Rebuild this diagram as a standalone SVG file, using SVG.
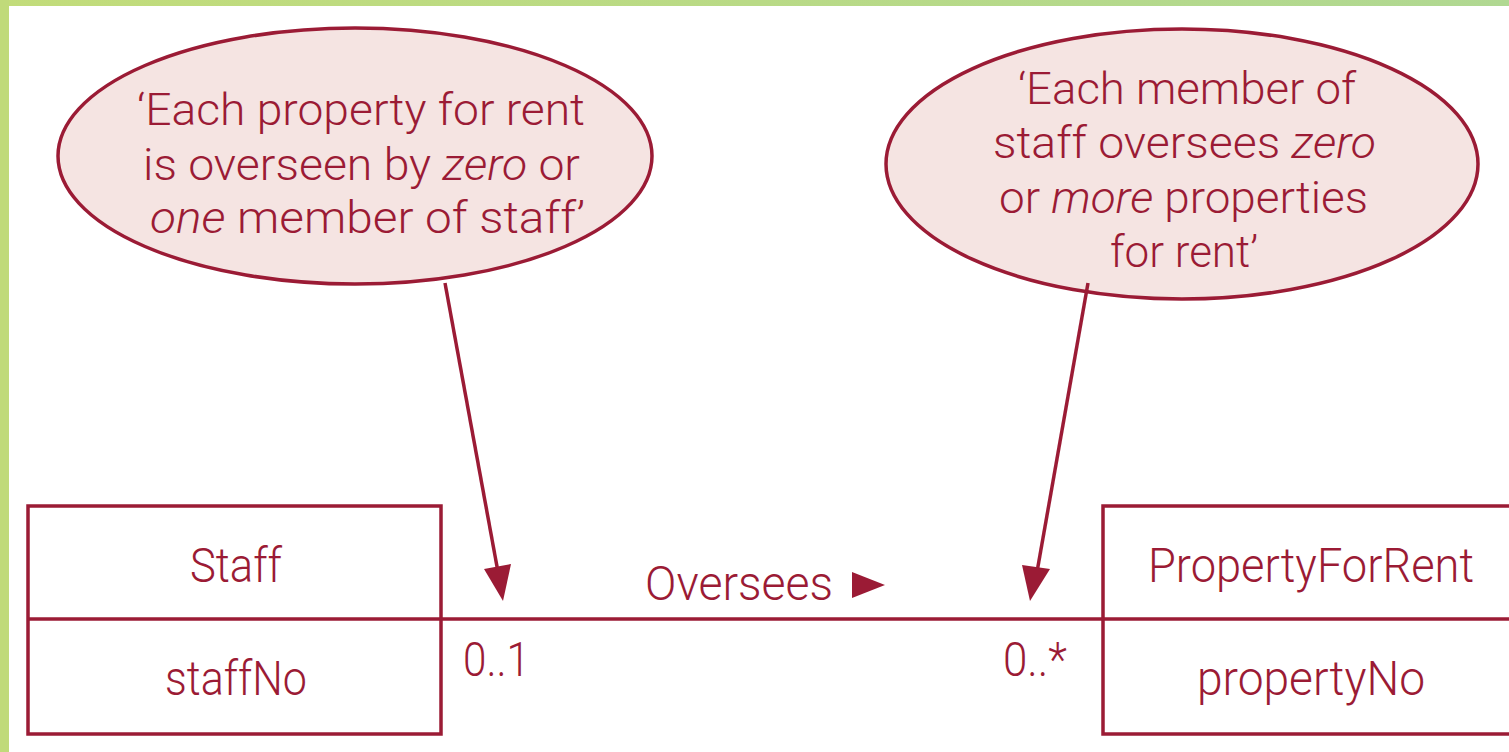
<svg xmlns="http://www.w3.org/2000/svg" width="1509" height="752" viewBox="0 0 1509 752">
<defs>
<linearGradient id="g" x1="0" y1="0" x2="1" y2="0">
<stop offset="0" stop-color="#c2dc7a"/>
<stop offset="1" stop-color="#b0d892"/>
</linearGradient>
<style>
.t{font-family:Roboto,"Liberation Sans",Arial,sans-serif;font-weight:300;font-size:49px;fill:#9b1b35}
.n{font-size:45px}
.box{fill:#fff;stroke:#9b1b35;stroke-width:3.5}
.ell{fill:#f5e4e2;stroke:#9b1b35;stroke-width:3.5}
.ln{stroke:#9b1b35;stroke-width:3.5;fill:none}
.ah{fill:#9b1b35}
.i{font-style:italic}
</style>
</defs>
<rect width="1509" height="752" fill="#fff"/>
<rect x="0" y="0" width="1509" height="6" fill="url(#g)"/>
<rect x="0" y="0" width="9" height="752" fill="#c0da7a"/>

<g id="note-left">
<ellipse class="ell" cx="355" cy="156" rx="297" ry="128"/>
<text class="t n" x="137" y="125" textLength="448" lengthAdjust="spacingAndGlyphs">‘Each property for rent</text>
<text class="t n" x="143" y="180" textLength="437" lengthAdjust="spacingAndGlyphs">is overseen by <tspan class="i">zero</tspan> or</text>
<text class="t n" x="150" y="233" textLength="435" lengthAdjust="spacingAndGlyphs"><tspan class="i">one</tspan> member of staff’</text>
</g>

<g id="note-right">
<ellipse class="ell" cx="1182" cy="164" rx="296" ry="135"/>
<text class="t n" x="1018" y="104" textLength="338" lengthAdjust="spacingAndGlyphs">‘Each member of</text>
<text class="t n" x="993" y="158" textLength="383" lengthAdjust="spacingAndGlyphs">staff oversees <tspan class="i">zero</tspan></text>
<text class="t n" x="999" y="213" textLength="369" lengthAdjust="spacingAndGlyphs">or <tspan class="i">more</tspan> properties</text>
<text class="t n" x="1110" y="267" textLength="148" lengthAdjust="spacingAndGlyphs">for rent’</text>
</g>

<g id="staff">
<rect class="box" x="28" y="506" width="413" height="228"/>
<line class="ln" x1="28" y1="619" x2="441" y2="619"/>
<text class="t" x="190" y="582" textLength="92" lengthAdjust="spacingAndGlyphs">Staff</text>
<text class="t" x="165" y="695" textLength="142" lengthAdjust="spacingAndGlyphs">staffNo</text>
</g>

<g id="property">
<rect class="box" x="1103" y="506" width="420" height="228"/>
<line class="ln" x1="1103" y1="619" x2="1509" y2="619"/>
<text class="t" x="1148" y="582" textLength="326" lengthAdjust="spacingAndGlyphs">PropertyForRent</text>
<text class="t" x="1197" y="695" textLength="228" lengthAdjust="spacingAndGlyphs">propertyNo</text>
</g>

<g id="connectors">
<line class="ln" x1="441" y1="619" x2="1103" y2="619"/>
<text class="t" x="645" y="600" textLength="188" lengthAdjust="spacingAndGlyphs">Oversees</text>
<path class="ah" d="M852,572 L885,585 L852,598 z"/>
<text class="t" x="463" y="676" textLength="67" lengthAdjust="spacingAndGlyphs">0..1</text>
<text class="t" x="1003" y="676" textLength="64" lengthAdjust="spacingAndGlyphs">0..*</text>
<line class="ln" x1="445" y1="283" x2="498" y2="572"/>
<path class="ah" d="M484,569 L511,564 L503,601 z"/>
<line class="ln" x1="1088" y1="283" x2="1037" y2="572"/>
<path class="ah" d="M1022,565 L1050,569 L1030,601 z"/>
</g>
</svg>
